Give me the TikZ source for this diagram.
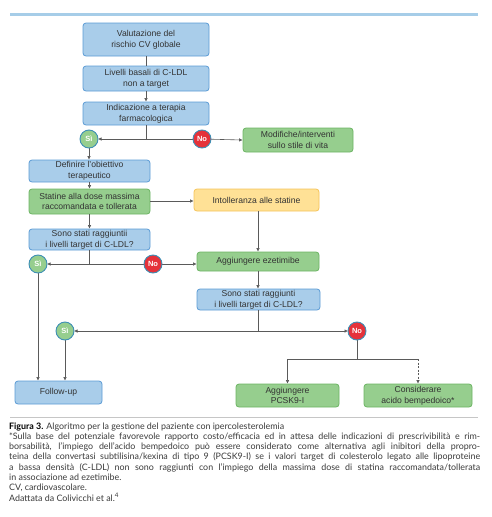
\documentclass[tikz,border=0pt]{standalone}
\usepackage{fontspec}
\setmainfont{Liberation Sans}
\newfontfamily\capfont{Lato}
\usetikzlibrary{arrows.meta}
\definecolor{bfill}{HTML}{A9CDEA}
\definecolor{bdraw}{HTML}{5B9BD5}
\definecolor{gfill}{HTML}{96CE8E}
\definecolor{gdraw}{HTML}{6CB463}
\definecolor{yfill}{HTML}{FFE196}
\definecolor{ydraw}{HTML}{F5C45A}
\definecolor{nofill}{HTML}{E5323A}
\definecolor{cdraw}{HTML}{3D8FB5}
\definecolor{linec}{HTML}{5A5A5A}
\definecolor{txtc}{HTML}{333333}
\definecolor{capc}{HTML}{3A3A3A}
\definecolor{topbar}{HTML}{A6CDE8}
\begin{document}
\begin{tikzpicture}[x=1pt,y=-1pt,
  box/.style={draw, rounded corners=3pt, line width=0.8pt, align=center,
    font=\fontsize{8.6}{10.8}\selectfont, text=txtc, inner sep=0pt},
  bluebox/.style={box, fill=bfill, draw=bdraw},
  greenbox/.style={box, fill=gfill, draw=gdraw},
  yellowbox/.style={box, fill=yfill, draw=ydraw},
  circ/.style={circle, line width=0.9pt, draw=cdraw, minimum size=18pt, inner sep=0pt,
    text=white, font=\fontsize{7.5}{9}\selectfont\bfseries},
  sinode/.style={circ, fill=gfill},
  nonode/.style={circ, fill=nofill},
  conn/.style={draw=linec, line width=0.6pt},
  arr/.style={conn, -{Latex[length=3.5pt,width=3.5pt]}},
  captext/.style={anchor=base west, inner sep=0pt, text=capc, font=\capfont\fontsize{8.9}{10}\selectfont}
]
\useasboundingbox (0,0) rectangle (492,517);
\fill[topbar] (10,12.8) rectangle (478,15.5);

% boxes
\node[bluebox, minimum width=126pt, minimum height=33pt] (v1) at (146,39.5) {Valutazione del\\rischio CV globale};
\node[bluebox, minimum width=126pt, minimum height=25pt] (v2) at (146,78.5) {Livelli basali di C-LDL\\non a target};
\node[bluebox, minimum width=126pt, minimum height=23pt] (v3) at (146,113.5) {Indicazione a terapia\\farmacologica};
\node[greenbox, minimum width=110pt, minimum height=24pt] (mod) at (298,140) {Modifiche/interventi\\sullo stile di vita};
\node[bluebox, minimum width=121pt, minimum height=22pt] (def) at (89.5,171) {Definire l'obiettivo\\terapeutico};
\node[greenbox, minimum width=121pt, minimum height=25pt] (stat) at (89.5,201.5) {Statine alla dose massima\\raccomandata e tollerata};
\node[yellowbox, minimum width=125pt, minimum height=22pt] (int) at (256.5,200) {Intolleranza alle statine};
\node[bluebox, minimum width=121pt, minimum height=21pt] (sono1) at (89.5,239.5) {Sono stati raggiuntii\\i livelli target di C-LDL?};
\node[greenbox, minimum width=122pt, minimum height=19pt] (eze) at (258,261.5) {Aggiungere ezetimibe};
\node[bluebox, minimum width=123pt, minimum height=21pt] (sono2) at (258.5,299.5) {Sono stati raggiunti\\i livelli target di C-LDL?};
\node[greenbox, minimum width=103pt, minimum height=23pt] (pcsk) at (287.5,395.5) {Aggiungere\\PCSK9-I};
\node[greenbox, minimum width=108pt, minimum height=23pt] (cons) at (418,395.5) {Considerare\\acido bempedoico*};
\node[bluebox, minimum width=87pt, minimum height=23pt] (fu) at (58.5,392.5) {Follow-up};

% junctions
\coordinate (j1) at (146,139);
\coordinate (j2) at (89.5,264);
\coordinate (j3) at (258,331);
\coordinate (j4) at (357,359);

% connectors (drawn before circles)
\draw[conn] (v1) -- (v2);
\draw[arr] (v2) -- (v3);
\draw[conn] (v3.south) -- (j1);
\draw[arr] (j1) -- (98,139);
\draw[conn] (j1) -- (202,139);
\draw[arr] (202,139) -- (mod.west);
\draw[arr] (89,148) -- (def.north -| 89,0);
\draw[arr] (def) -- (stat);
\draw[arr] (stat.east |- 0,201) -- (int.west |- 0,201);
\draw[arr] (stat) -- (sono1);
\draw[conn] (sono1.south) -- (j2);
\draw[arr] (j2) -- (47,264);
\draw[conn] (j2) -- (153,264);
\draw[arr] (153,264) -- (eze.west |- 0,264);
\draw[arr] (int.south -| 258,0) -- (eze.north);
\draw[arr] (eze) -- (sono2.north -| 258,0);
\draw[conn] (sono2.south -| 258,0) -- (j3);
\draw[arr] (j3) -- (74,331);
\draw[arr] (j3) -- (348,331);
\draw[conn] (357,340) -- (j4);
\draw[arr] (j4) -| (pcsk.north);
\draw[conn] (j4) -- (j4 -| cons.north);
\draw[arr, dash pattern=on 2pt off 1.5pt] (j4 -| cons.north) -- (cons.north);
\draw[arr] (38,273) -- (fu.north -| 38,0);
\draw[arr] (65,340) -- (fu.north -| 65,0);

% circles
\node[sinode] (si1) at (89,139) {Sì};
\node[nonode] (no1) at (202,139) {No};
\node[sinode] (si2) at (38,264) {Sì};
\node[nonode] (no2) at (153,264) {No};
\node[sinode] (si3) at (65,331) {Sì};
\node[nonode] (no3) at (357,331) {No};

% separator
\draw[gray!45, line width=0.8pt] (10,417) -- (478,417);

% caption
\node[captext] (c1) at (9,429) {\textcolor{black}{\bfseries Figura 3.} Algoritmo per la gestione del paziente con ipercolesterolemia};
\node[captext] (c2) at (9,439.3) {\makebox[471pt][s]{*Sulla base del potenziale favorevole rapporto costo/efficacia ed in attesa delle indicazioni di prescrivibilità e rim-}};
\node[captext] (c3) at (9,449.6) {\makebox[471pt][s]{borsabilità, l’impiego dell’acido bempedoico può essere considerato come alternativa agli inibitori della propro-}};
\node[captext] (c4) at (9,459.9) {\makebox[471pt][s]{teina della convertasi subtilisina/kexina di tipo 9 (PCSK9-I) se i valori target di colesterolo legato alle lipoproteine}};
\node[captext] (c5) at (9,470.2) {\makebox[471pt][s]{a bassa densità (C-LDL) non sono raggiunti con l’impiego della massima dose di statina raccomandata/tollerata}};
\node[captext] (c6) at (9,480.5) {in associazione ad ezetimibe.};
\node[captext] (c7) at (9,490.8) {CV, cardiovascolare.};
\node[captext] (c8) at (9,501.1) {Adattata da Colivicchi et al.\textsuperscript{4}};
\end{tikzpicture}
\end{document}
